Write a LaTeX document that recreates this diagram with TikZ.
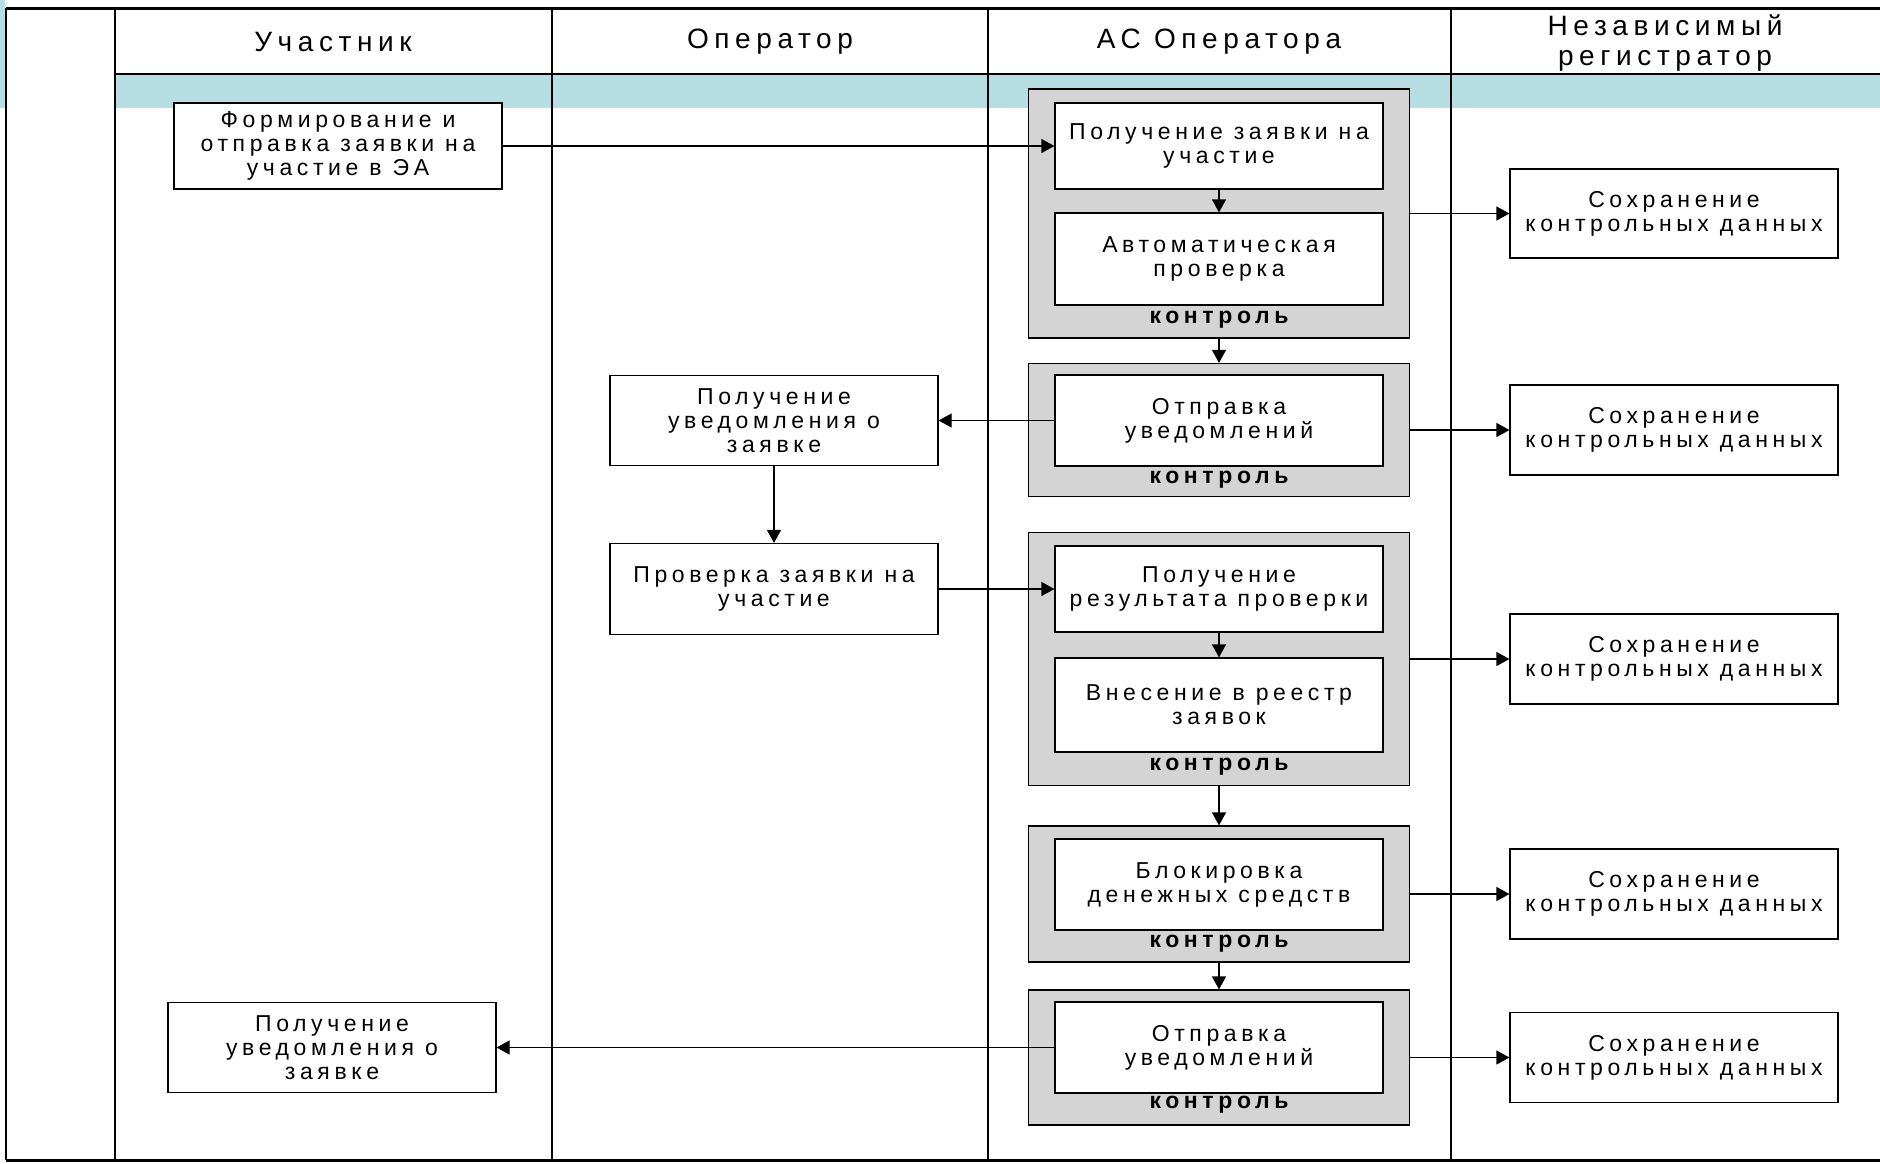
\documentclass[tikz,border=0pt]{standalone}
\usepackage{fontspec}
\setmainfont{Liberation Sans}[LetterSpace=20]
\usetikzlibrary{arrows.meta}
\definecolor{bandblue}{RGB}{183,223,227}
\definecolor{grpgray}{RGB}{212,212,212}

\begin{document}
\begin{tikzpicture}[x=1pt,y=-1pt,
    proc/.style={draw,fill=white,line width=1.2pt,align=center,inner sep=0pt,
      minimum width=328pt,minimum height=#1,font=\fontsize{23}{24}\selectfont},
    proc/.default=90pt,
    grp/.style={draw,fill=grpgray,line width=1.2pt,inner sep=0pt,
      minimum width=381pt,minimum height=#1},
    ctrl/.style={inner sep=0pt,font=\bfseries\fontsize{23}{24}\selectfont},
    lane/.style={align=center,inner sep=0pt,font=\fontsize{28}{30}\selectfont}]
  \useasboundingbox (0,0) rectangle (1880,1163);
  % lanes
  \fill[bandblue] (0,0) rectangle (5,108);
  \fill[bandblue] (115,74) rectangle (1880,108);
  \draw[line width=1.2pt] (6,8) -- (6,1160);
  \foreach \x in {115,552,988,1451}
    \draw[line width=1.2pt] (\x,8) -- (\x,1160);
  \draw[line width=1.2pt] (115,74) -- (1880,74);
  \draw[line width=3pt] (6,8) -- (1880,8);
  \draw[line width=3pt] (6,1160) -- (1880,1160);
  \draw
    (333,42) node[lane] (h1){Участник}
    (770,42) node[lane] (h2){Оператор}
    (1219,42) node[lane] (h3){АС Оператора}
    (1665,43) node[lane] (h4){Независимый\\регистратор};
  % steps
  \draw
    (338,146) node[proc=86pt] (u1){Формирование и\\отправка заявки на\\участие в ЭА}
    (1219,213.5) node[grp=249pt] (g1){}
    (1219,146) node[proc=86pt] (a1){Получение заявки на\\участие}
    (1219,259) node[proc=92pt] (a2){Автоматическая\\проверка}
    (1219,320) node[ctrl] (k1){контроль}
    (1674,213.5) node[proc=89pt] (s1){Сохранение\\контрольных данных}
    (1219,430) node[grp=133pt] (g2){}
    (1219,420.5) node[proc=91pt] (a3){Отправка\\уведомлений}
    (1219,480) node[ctrl] (k2){контроль}
    (774,420.5) node[proc] (o1){Получение\\уведомления о\\заявке}
    (1674,430) node[proc] (s2){Сохранение\\контрольных данных}
    (774,589) node[proc=91pt] (o2){Проверка заявки на\\участие}
    (1219,659) node[grp=253pt] (g3){}
    (1219,589) node[proc=86pt] (a4){Получение\\результата проверки}
    (1219,705) node[proc=94pt] (a5){Внесение в реестр\\заявок}
    (1219,767) node[ctrl] (k3){контроль}
    (1674,659) node[proc] (s3){Сохранение\\контрольных данных}
    (1219,894) node[grp=136pt] (g4){}
    (1219,884.5) node[proc=91pt] (a6){Блокировка\\денежных средств}
    (1219,944) node[ctrl] (k4){контроль}
    (1674,894) node[proc] (s4){Сохранение\\контрольных данных}
    (1219,1057.5) node[grp=135pt] (g5){}
    (1219,1047.5) node[proc=91pt] (a7){Отправка\\уведомлений}
    (1219,1105) node[ctrl] (k5){контроль}
    (1674,1057.5) node[proc] (s5){Сохранение\\контрольных данных}
    (332,1047.5) node[proc] (u2){Получение\\уведомления о\\заявке};
  \begin{scope}[-{Triangle[length=13pt,width=14pt]},line width=1.2pt]
    \draw (u1) to (a1);
    \draw (a1) to (a2);
    \draw (g1) to (s1);
    \draw (g1) to (g2);
    \draw (a3) to (o1);
    \draw (g2) to (s2);
    \draw (o1) to (o2);
    \draw (o2) to (a4);
    \draw (a4) to (a5);
    \draw (g3) to (s3);
    \draw (g3) to (g4);
    \draw (g4) to (s4);
    \draw (g4) to (g5);
    \draw (g5) to (s5);
    \draw (a7) to (u2);
  \end{scope}
\end{tikzpicture}
\end{document}
